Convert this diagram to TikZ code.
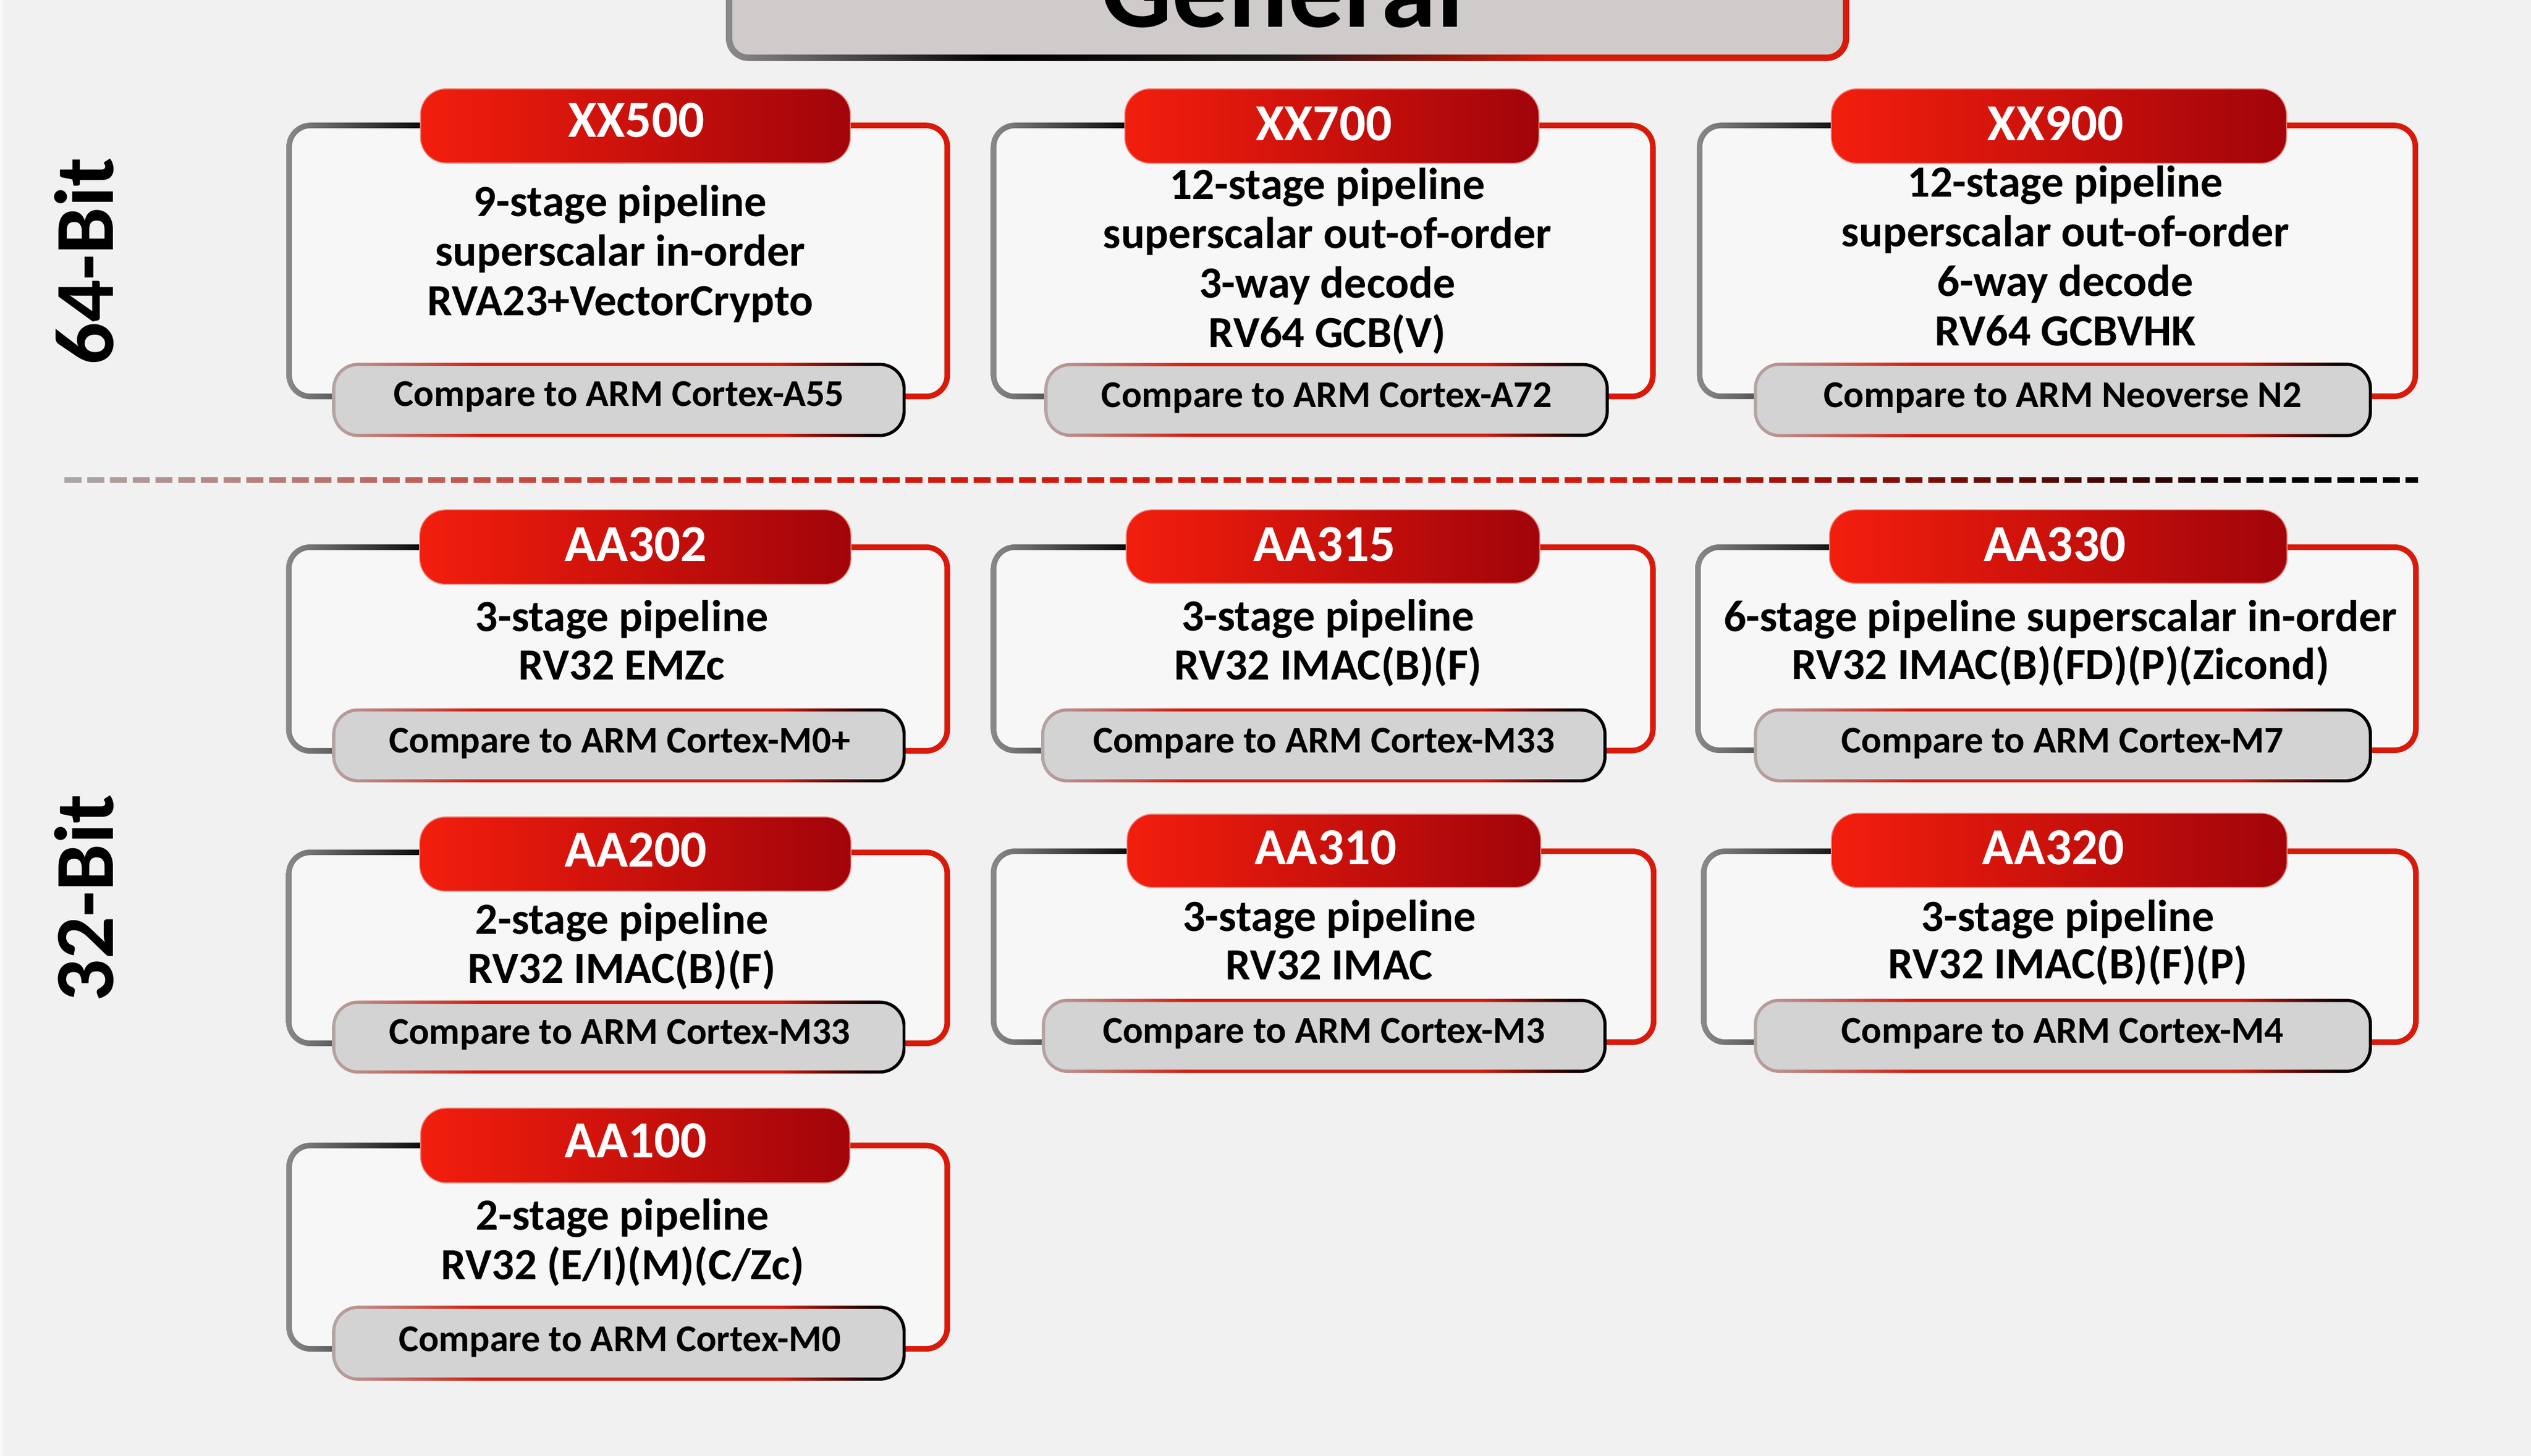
\documentclass[tikz,border=0pt]{standalone}
\usepackage{fontspec}
\newfontfamily\cf{Carlito}
\usetikzlibrary{calc}
\definecolor{bg}{HTML}{F1F1F1}
\definecolor{cardfill}{HTML}{F7F7F7}
\definecolor{pillfill}{HTML}{D3D3D3}
\definecolor{titlefill}{HTML}{CFCBCA}
\definecolor{hdrL}{HTML}{F31E0D}
\definecolor{hdrR}{HTML}{A1040A}
\definecolor{hdrEdge}{HTML}{EE8A80}
\definecolor{bdgray}{HTML}{8A8A8A}
\definecolor{bddark}{HTML}{1E1A1A}
\definecolor{bdmid}{HTML}{8E1609}
\definecolor{bdred}{HTML}{D91A0A}
\definecolor{pgray}{HTML}{B4A6A6}
\definecolor{pred}{HTML}{D51C0E}
\definecolor{pblack}{HTML}{100000}
\definecolor{dgray}{HTML}{ABA6A6}
\definecolor{dred}{HTML}{D3180A}
\definecolor{ddark}{HTML}{5A0804}
\pgfdeclarehorizontalshading{cardbd}{100bp}{color(0bp)=(bdgray); color(25bp)=(bdgray); color(36bp)=(black); color(48bp)=(bddark); color(56bp)=(bdmid); color(61bp)=(bdred); color(100bp)=(bdred)}
\pgfdeclarehorizontalshading{titlebd}{100bp}{color(0bp)=(bdgray); color(25bp)=(bdgray); color(37bp)=(black); color(50bp)=(bddark); color(57bp)=(bdmid); color(62bp)=(bdred); color(100bp)=(bdred)}
\pgfdeclarehorizontalshading{pillbd}{100bp}{color(0bp)=(pgray); color(25bp)=(pgray); color(38bp)=(pred); color(64bp)=(pred); color(72bp)=(pblack); color(75bp)=(black); color(100bp)=(black)}
\pgfdeclarehorizontalshading{dashgrad}{100bp}{color(0bp)=(dgray); color(25bp)=(dgray); color(40bp)=(dred); color(58bp)=(dred); color(67bp)=(ddark); color(72bp)=(black); color(100bp)=(black)}
\newcommand\cardframe[4]{%
  \shade[shading=cardbd, rounded corners=15pt] (#1,#2) rectangle (#3,#4);
  \fill[cardfill, rounded corners=11.5pt] ($(#1,#2)+(3.5,3.5)$) rectangle ($(#3,#4)-(3.5,3.5)$);}
\newcommand\hdrpill[4]{%
  \shade[left color=hdrL, right color=hdrR, draw=hdrEdge, line width=0.6pt, rounded corners=16pt] (#1,#2) rectangle (#3,#4);}
\newcommand\cmppill[4]{%
  \shade[shading=pillbd, rounded corners=16pt] (#1,#2) rectangle (#3,#4);
  \fill[pillfill, rounded corners=14pt] ($(#1,#2)+(2,2)$) rectangle ($(#3,#4)-(2,2)$);}
\tikzset{
  hdrtxt/.style={font=\cf\bfseries\fontsize{32.2}{36}\selectfont, text=white, inner sep=0pt, anchor=base},
  bodytxt/.style={font=\cf\bfseries\fontsize{27.6}{30}\selectfont, text=black, inner sep=0pt, anchor=base},
  cmptxt/.style={font=\cf\bfseries\fontsize{23.4}{26}\selectfont, text=black, inner sep=0pt, anchor=base},
  bittxt/.style={font=\cf\bfseries\fontsize{52}{60}\selectfont, text=black, inner sep=0pt, anchor=base, rotate=90},
  titletxt/.style={font=\cf\bfseries\fontsize{69}{80}\selectfont, text=black, inner sep=0pt, anchor=base}
}
\begin{document}
\begin{tikzpicture}[x=1pt, y=-1pt]
\useasboundingbox (0,0) rectangle (1568,902.15);
\fill[bg] (0,0) rectangle (1568,902.15);
\fill[white!60!bg] (0,0) rectangle (1.4,902.15);

% title
\shade[shading=titlebd, rounded corners=14pt] (449.7,-40) rectangle (1145.6,37.8);
\fill[titlefill, rounded corners=10pt] (453.7,-36) rectangle (1141.6,33.8);
\node[titletxt] (title) at (794.5,16.8) {General};

% side labels
\node[bittxt] (b64) at (70,162) {64-Bit};
\node[bittxt] (b32) at (70,556.5) {32-Bit};

% dashed separator
\shade[shading=dashgrad] \foreach \nn [evaluate=\nn as \xx using 40+\nn*14.08] in {0,...,102} {(\xx,295.6) rectangle ++(10.5,3.6)} (1490.2,295.6) rectangle (1498,299.2);

% ---------- XX500
\cardframe{177.4}{76}{588.6}{247.4}
\hdrpill{260.5}{55}{526.8}{101}
\node[hdrtxt] (h1) at (394.2,84.9) {XX500};
\foreach \txt [count=\kk from 0] in {9-stage pipeline, superscalar in-order, RVA23+VectorCrypto}
  \node[bodytxt] (x5b\kk) at (384.3,134.2+30.65*\kk) {\txt};
\cmppill{205.8}{224.8}{561.1}{270.8}
\node[cmptxt] (c1) at (383.5,251.8) {Compare to ARM Cortex-A55};

% ---------- XX700
\cardframe{613.8}{76}{1025.7}{247.4}
\hdrpill{696.8}{55}{953.4}{101.2}
\node[hdrtxt] (h2) at (820.2,87) {XX700};
\foreach \txt [count=\kk from 0] in {12-stage pipeline, superscalar out-of-order, 3-way decode, RV64 GCB(V)}
  \node[bodytxt] (x7b\kk) at (822.3,123.3+30.67*\kk) {\txt};
\cmppill{647}{224.9}{996.7}{270.7}
\node[cmptxt] (c2) at (821.9,252.3) {Compare to ARM Cortex-A72};

% ---------- XX900
\cardframe{1051.2}{76}{1498.1}{247.3}
\hdrpill{1134.5}{55}{1416.5}{101.2}
\node[hdrtxt] (h3) at (1273.5,87.2) {XX900};
\foreach \txt [count=\kk from 0] in {12-stage pipeline, superscalar out-of-order, 6-way decode, RV64 GCBVHK}
  \node[bodytxt] (x9b\kk) at (1279.5,122.2+30.67*\kk) {\txt};
\cmppill{1086.5}{224.7}{1469.5}{270.9}
\node[cmptxt] (c3) at (1278,252.5) {Compare to ARM Neoverse N2};

% ---------- AA302
\cardframe{177.2}{337.3}{588.6}{467}
\hdrpill{260}{315.9}{527.2}{362}
\node[hdrtxt] (h4) at (394,347.6) {AA302};
\foreach \txt [count=\kk from 0] in {3-stage pipeline, RV32 EMZc}
  \node[bodytxt] (a302b\kk) at (385.2,391.3+29.9*\kk) {\txt};
\cmppill{205.8}{438.9}{561.1}{484.8}
\node[cmptxt] (c4) at (383.9,466.6) {Compare to ARM Cortex-M0+};

% ---------- AA315
\cardframe{613.8}{337.3}{1025.7}{466.8}
\hdrpill{697.7}{315.9}{953.9}{361.4}
\node[hdrtxt] (h5) at (820.6,347.6) {AA315};
\foreach \txt [count=\kk from 0] in {3-stage pipeline, RV32 IMAC(B)(F)}
  \node[bodytxt] (a315b\kk) at (822.7,391+30.3*\kk) {\txt};
\cmppill{645}{438.9}{995.3}{484.8}
\node[cmptxt] (c5) at (820.2,466.6) {Compare to ARM Cortex-M33};

% ---------- AA330
\cardframe{1050.2}{337.3}{1498.4}{466.6}
\hdrpill{1133.4}{315.9}{1416.9}{361.4}
\node[hdrtxt] (h6) at (1273,347.6) {AA330};
\foreach \txt [count=\kk from 0] in {6-stage pipeline superscalar in-order, RV32 IMAC(B)(FD)(P)(Zicond)}
  \node[bodytxt] (a330b\kk) at (1276.4,391.3+29.6*\kk) {\txt};
\cmppill{1086.5}{438.9}{1469.5}{484.8}
\node[cmptxt] (c6) at (1277.8,466.6) {Compare to ARM Cortex-M7};

% ---------- AA200
\cardframe{177.2}{526.4}{588.6}{648.2}
\hdrpill{260}{506.2}{527.2}{552.2}
\node[hdrtxt] (h7) at (394,537.2) {AA200};
\foreach \txt [count=\kk from 0] in {2-stage pipeline, RV32 IMAC(B)(F)}
  \node[bodytxt] (a200b\kk) at (385.2,578.6+30.5*\kk) {\txt};
\cmppill{205.8}{620}{561.1}{665.2}
\node[cmptxt] (c7) at (383.9,646.8) {Compare to ARM Cortex-M33};

% ---------- AA310
\cardframe{613.8}{525.7}{1026.2}{647.5}
\hdrpill{698.2}{504.4}{954.5}{549.9}
\node[hdrtxt] (h8) at (821.3,535.6) {AA310};
\foreach \txt [count=\kk from 0] in {3-stage pipeline, RV32 IMAC}
  \node[bodytxt] (a310b\kk) at (823.5,577+29.9*\kk) {\txt};
\cmppill{645.5}{618.8}{995.3}{664.8}
\node[cmptxt] (c8) at (820.3,646.4) {Compare to ARM Cortex-M3};

% ---------- AA320
\cardframe{1053.8}{525.7}{1498.4}{647.5}
\hdrpill{1134.6}{503.9}{1416.9}{549.9}
\node[hdrtxt] (h9) at (1272.1,535.6) {AA320};
\foreach \txt [count=\kk from 0] in {3-stage pipeline, RV32 IMAC(B)(F)(P)}
  \node[bodytxt] (a320b\kk) at (1281.1,577+29.2*\kk) {\txt};
\cmppill{1086.5}{618.8}{1469.5}{664.8}
\node[cmptxt] (c9) at (1277.8,646.4) {Compare to ARM Cortex-M4};

% ---------- AA100
\cardframe{177.4}{708}{588.6}{837.5}
\hdrpill{260.6}{686.6}{526.5}{732.9}
\node[hdrtxt] (h10) at (394,717.2) {AA100};
\foreach \txt [count=\kk from 0] in {2-stage pipeline, RV32 (E/I)(M)(C/Zc)}
  \node[bodytxt] (a100b\kk) at (385.7,762.2+30.7*\kk) {\txt};
\cmppill{205.8}{809}{561.1}{855.5}
\node[cmptxt] (c10) at (384,837.2) {Compare to ARM Cortex-M0};
\end{tikzpicture}
\end{document}
